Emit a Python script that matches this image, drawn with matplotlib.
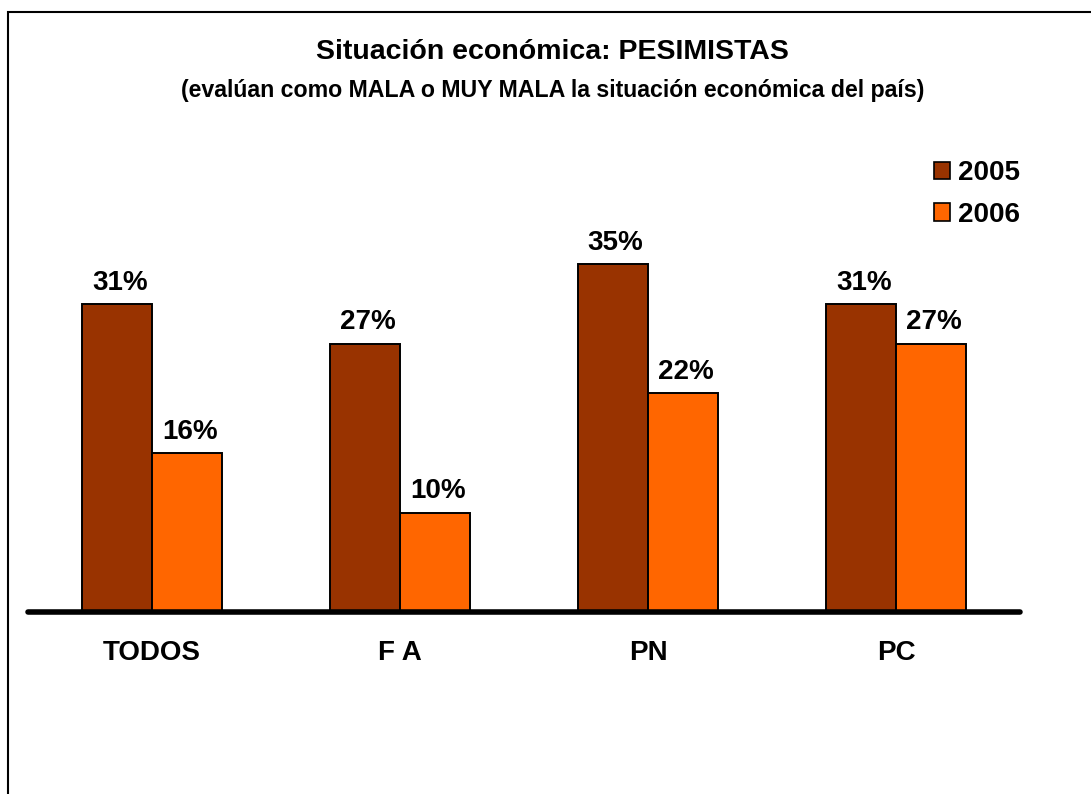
import matplotlib
matplotlib.use("Agg")
import matplotlib.pyplot as plt
import numpy as np
from matplotlib.patches import Rectangle, Patch

plt.rcParams["font.family"] = ["Liberation Sans", "DejaVu Sans"]
plt.rcParams["font.weight"] = "bold"

categories = ["TODOS", "F A", "PN", "PC"]
series_names = ["2005", "2006"]
values_2005 = [31, 27, 35, 31]
values_2006 = [16, 10, 22, 27]
colors = ["#993300", "#FF6600"]

W, H = 1091, 794
fig = plt.figure(figsize=(W / 100, H / 100), dpi=100)

# outer frame (right and bottom edges run off the picture)
fig.add_artist(Rectangle((8 / W, -0.1), 1.2, (H - 12) / H + 0.1,
                         transform=fig.transFigure, fill=False,
                         edgecolor="black", linewidth=1.5))

ax = fig.add_axes([28 / W, (H - 612) / H, 992 / W, 472 / H])
x = np.arange(len(categories))
bw = 0.283
bars1 = ax.bar(x - bw / 2, values_2005, bw, color=colors[0],
               edgecolor="black", linewidth=1.4, label=series_names[0])
bars2 = ax.bar(x + bw / 2, values_2006, bw, color=colors[1],
               edgecolor="black", linewidth=1.4, label=series_names[1])

for bars in (bars1, bars2):
    for b in bars:
        ax.annotate(f"{b.get_height():.0f}%",
                    (b.get_x() + b.get_width() / 2, b.get_height()),
                    xytext=(2, 6), textcoords="offset points",
                    ha="center", va="bottom", fontsize=20, fontweight="bold")

ax.set_xlim(-0.5, 3.5)
ax.set_ylim(0, 47.5)
ax.plot([-0.5, 3.5], [0, 0], color="black", linewidth=4,
        solid_capstyle="round", clip_on=False, zorder=5)
for s in ax.spines.values():
    s.set_visible(False)
ax.set_yticks([])
ax.set_xticks(x)
ax.set_xticklabels(categories, fontsize=20, fontweight="bold")
ax.tick_params(axis="x", length=0, pad=20)

fig.text(552 / W, 1 - 52 / H, "Situación económica: PESIMISTAS",
         ha="center", va="center", fontsize=20.5, fontweight="bold")
fig.text(553 / W, 1 - 91 / H,
         "(evalúan como MALA o MUY MALA la situación económica del país)",
         ha="center", va="center", fontsize=16.7, fontweight="bold")

handles = [Patch(facecolor=c, edgecolor="black", linewidth=1.2) for c in colors]
fig.legend(handles, series_names, loc="upper left",
           bbox_to_anchor=(934 / W, 1 - 160 / H), frameon=False,
           borderpad=0, borderaxespad=0,
           handlelength=0.58, handleheight=0.58, handletextpad=0.3,
           labelspacing=0.57, prop={"size": 20, "weight": "bold"})

fig.savefig("out.png", dpi=100)
